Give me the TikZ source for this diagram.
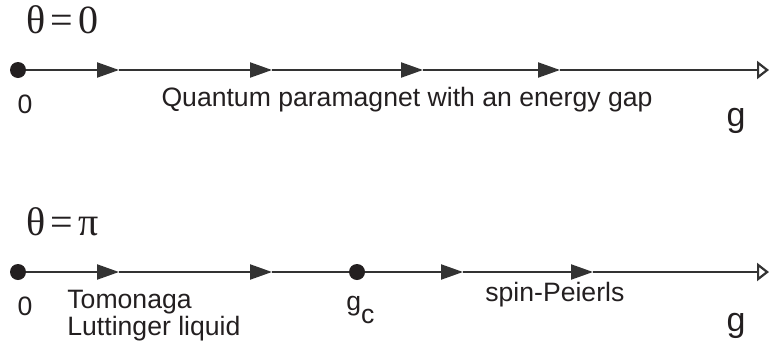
\documentclass[tikz,border=0pt]{standalone}
\usepackage{fontspec}
\setmainfont{Liberation Sans}
\newfontfamily\greekfont{Liberation Serif}
\usetikzlibrary{arrows.meta,positioning}
\definecolor{LineGrey}{HTML}{333333}
\definecolor{InkGrey}{HTML}{231F20}

\begin{document}
\begin{tikzpicture}[x=0.5pt, y=-0.5pt,
    seg/.style={draw=LineGrey, line width=1.1pt},
    flow/.style={seg, -{Triangle[length=11pt,width=7.5pt]}},
    tail/.style={seg, -{Triangle[open,length=6pt,width=9pt]}},
    fixpt/.style={circle, fill=InkGrey, inner sep=0pt, minimum size=8pt},
    lbl/.style={font=\fontsize{13.3}{13.5}\selectfont, text=InkGrey, inner sep=0pt},
    axislbl/.style={font=\fontsize{17}{17}\selectfont, text=InkGrey, inner sep=0pt, anchor=base},
    title/.style={font=\greekfont\fontsize{20}{20}\selectfont, text=InkGrey, inner sep=0pt, anchor=base west}]
  \useasboundingbox (0,0) rectangle (770,343);

  % theta = 0
  \node[title] (top) at (26,33) {θ\hspace{2.5pt}=\hspace{2.5pt}0};
  \node[fixpt] (z0) at (18,70) {};
  \coordinate (a1) at (119,70);
  \coordinate (a2) at (272,70);
  \coordinate (a3) at (423,70);
  \coordinate (a4) at (560,70);
  \coordinate (e0) at (769,70);
  \draw[flow] (z0) -- (a1);
  \draw[flow] (a1) -- (a2);
  \draw[flow] (a2) -- (a3);
  \draw[flow] (a3) -- (a4);
  \draw[tail] (a4) -- (e0);
  \node[lbl, anchor=base] (zero0) at (25,113) {0};
  \node[lbl, anchor=base] (para) at (407,106) {Quantum paramagnet with an energy gap};
  \node[axislbl] (g0) at (736,126) {g};

  % theta = pi
  \node[title] (bot) at (26,235) {θ\hspace{2.5pt}=\hspace{2.5pt}π};
  \node[fixpt] (z1) at (18,272) {};
  \node[fixpt] (gc) at (357,272) {};
  \coordinate (b1) at (119,272);
  \coordinate (b2) at (272,272);
  \coordinate (b3) at (463,272);
  \coordinate (b4) at (593,272);
  \coordinate (e1) at (769,272);
  \draw[flow] (z1) -- (b1);
  \draw[flow] (b1) -- (b2);
  \draw[seg] (b2) -- (gc);
  \draw[flow] (gc) -- (b3);
  \draw[flow] (b3) -- (b4);
  \draw[tail] (b4) -- (e1);
  \node[lbl, anchor=base] (zero1) at (25,315) {0};
  \node[lbl, anchor=north west, align=left] (tl) at (67,290) {Tomonaga\\Luttinger liquid};
  \node[lbl, anchor=base west] (gclbl) at (346,310) {g\raisebox{-6.5pt}{c}};
  \node[lbl, anchor=base west] (sp) at (485,301) {spin-Peierls};
  \node[axislbl] (g1) at (736,331) {g};
\end{tikzpicture}
\end{document}
